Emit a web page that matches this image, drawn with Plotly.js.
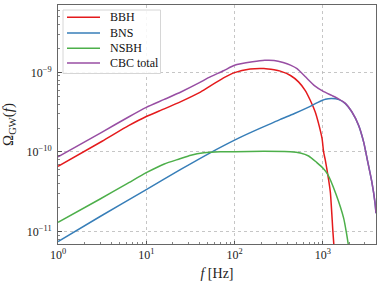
<!DOCTYPE html>
<html>
<head>
<meta charset="utf-8">
<script src="https://cdn.plot.ly/plotly-3.0.1.min.js"></script>
<style>html,body{margin:0;padding:0;background:#fff;}#chart{width:381px;height:284px;}</style>
</head>
<body>
<div id="chart"></div>
<script>
// ---- data ----
const seriesNames = ['BBH', 'BNS', 'NSBH', 'CBC total'];
const seriesColors = ['#e41a1c', '#377eb8', '#4daf4a', '#984ea3'];

const fBBH = [1, 3.16, 6.3, 10, 16, 25, 40, 50, 75, 100, 150, 215, 280, 330, 430, 530, 630, 720, 820, 895, 980, 1020, 1065, 1140, 1215, 1300, 1370];
const omegaBBH = [6.61e-11, 1.365e-10, 2.14e-10, 2.79e-10, 3.48e-10, 4.32e-10, 5.56e-10, 6.46e-10, 8.51e-10, 9.91e-10, 1.10e-9, 1.117e-9, 1.076e-9, 1.035e-9, 9.12e-10, 7.59e-10, 5.94e-10, 4.46e-10, 3.18e-10, 2.27e-10, 1.47e-10, 1.0e-10, 7.94e-11, 5.13e-11, 3.16e-11, 1.0e-11, 4.47e-12];

const fBNS = [1, 3, 10, 24, 53, 100, 160, 250, 330, 470, 680, 870, 1070, 1260, 1520, 1800, 2130, 2540, 2900, 3200, 3580, 3900, 4000];
const omegaBNS = [7.52e-12, 1.55e-11, 3.37e-11, 5.96e-11, 9.77e-11, 1.41e-10, 1.80e-10, 2.24e-10, 2.57e-10, 3.02e-10, 3.63e-10, 4.17e-10, 4.58e-10, 4.68e-10, 4.54e-10, 4.05e-10, 3.18e-10, 2.16e-10, 1.33e-10, 7.87e-11, 4.27e-11, 2.29e-11, 1.7e-11];

const fNSBH = [1, 3, 6, 10, 16, 24, 32, 45, 69, 100, 215, 430, 555, 690, 850, 1000, 1135, 1410, 1720, 1840, 2000];
const omegaNSBH = [1.31e-11, 2.57e-11, 3.98e-11, 5.50e-11, 7.08e-11, 8.22e-11, 9.12e-11, 9.77e-11, 1.007e-10, 1.01e-10, 1.02e-10, 1.01e-10, 9.73e-11, 8.91e-11, 7.41e-11, 6.31e-11, 5.25e-11, 2.95e-11, 1.48e-11, 1.0e-11, 5.62e-12];

const fTotal = [1, 3.16, 6.3, 10, 16, 25, 40, 50, 75, 100, 160, 220, 280, 355, 430, 510, 630, 810, 1000, 1260, 1520, 1800, 2130, 2540, 2900, 3200, 3580, 3900, 4000];
const omegaTotal = [8.71e-11, 1.78e-10, 2.75e-10, 3.63e-10, 4.57e-10, 5.71e-10, 7.41e-10, 8.51e-10, 1.047e-9, 1.225e-9, 1.355e-9, 1.416e-9, 1.41e-9, 1.33e-9, 1.23e-9, 1.11e-9, 8.85e-10, 6.75e-10, 5.8e-10, 5.13e-10, 4.62e-10, 4.08e-10, 3.2e-10, 2.17e-10, 1.33e-10, 7.87e-11, 4.27e-11, 2.29e-11, 1.7e-11];

const xRange = [1, 4000];
const yRange = [7e-12, 7e-9];
const xTickVals = [1, 10, 100, 1000];
const xTickText = ['10<sup>0</sup>', '10<sup>1</sup>', '10<sup>2</sup>', '10<sup>3</sup>'];
const yTickVals = [1e-11, 1e-10, 1e-9];
const yTickText = ['10<sup>\u221211</sup>', '10<sup>\u221210</sup>', '10<sup>\u22129</sup>'];

// ---- build traces ----
const xs = [fBBH, fBNS, fNSBH, fTotal];
const ys = [omegaBBH, omegaBNS, omegaNSBH, omegaTotal];
const traces = seriesNames.map((name, i) => ({
  type: 'scatter', mode: 'lines', name: name,
  x: xs[i], y: ys[i],
  line: {color: seriesColors[i], width: 1.5, shape: 'spline', smoothing: 0.6},
  hoverinfo: 'skip'
}));

// minor tick positions (log decades)
function minorTicks(lo, hi) {
  const out = [];
  for (let e = Math.floor(Math.log10(lo)); e <= Math.ceil(Math.log10(hi)); e++) {
    for (let m = 2; m <= 9; m++) {
      const v = m * Math.pow(10, e);
      if (v >= lo && v <= hi) out.push(v);
    }
  }
  return out;
}

const L = 58, R = 5, T = 5, B = 40, W = 381, H = 284;
const pw = W - L - R, ph = H - T - B;
const px = p => (p - L) / pw;          // pixel -> paper x
const py = p => (H - B - p) / ph;      // pixel -> paper y

const FONT = 'Liberation Serif, serif';

// ---- legend (upper left, matplotlib style) ----
const legendRows = [17.3, 33.0, 48.3, 63.0];
const shapes = [{
  type: 'rect', xref: 'paper', yref: 'paper',
  x0: px(63), x1: px(160.5), y0: py(73.5), y1: py(10),
  line: {color: '#d6d6d6', width: 1}, fillcolor: 'rgba(255,255,255,0.85)', layer: 'above'
}];
const annotations = [];
seriesNames.forEach((name, i) => {
  shapes.push({type: 'line', xref: 'paper', yref: 'paper',
    x0: px(67), x1: px(100), y0: py(legendRows[i]), y1: py(legendRows[i]),
    line: {color: seriesColors[i], width: 1.6}, layer: 'above'});
  annotations.push({xref: 'paper', yref: 'paper', x: px(108), y: py(legendRows[i]),
    xanchor: 'left', yanchor: 'middle', showarrow: false, text: name,
    font: {family: FONT, size: 12, color: '#111'}});
});

const axisCommon = {
  type: 'log', showgrid: true, gridcolor: '#b8b8b8', griddash: 'dot', gridwidth: 0.8,
  showline: true, linecolor: '#666', linewidth: 1, mirror: true, zeroline: false,
  ticks: 'inside', ticklen: 3.5, tickwidth: 0.8, tickcolor: '#333', tickmode: 'array',
  tickfont: {family: FONT, size: 12, color: '#222'}
};

const layout = {
  width: W, height: H,
  margin: {l: L, r: R, t: T, b: B, pad: 0},
  paper_bgcolor: '#ffffff', plot_bgcolor: '#ffffff',
  showlegend: false,
  font: {family: FONT, size: 12, color: '#222'},
  xaxis: Object.assign({}, axisCommon, {
    range: [Math.log10(xRange[0]), Math.log10(xRange[1])],
    tickvals: xTickVals, ticktext: xTickText,
    minor: {tickmode: 'array', tickvals: minorTicks(xRange[0], xRange[1]), ticks: 'inside', ticklen: 2, tickwidth: 0.6, tickcolor: '#333', showgrid: false},
    title: {text: '<i>f</i> [Hz]', font: {family: FONT, size: 14, color: '#222'}, standoff: 6},
    automargin: false
  }),
  yaxis: Object.assign({}, axisCommon, {
    range: [Math.log10(yRange[0]), Math.log10(yRange[1])],
    tickvals: yTickVals, ticktext: yTickText, ticklabelstandoff: 3,
    minor: {tickmode: 'array', tickvals: minorTicks(yRange[0], yRange[1]), ticks: 'inside', ticklen: 2, tickwidth: 0.6, tickcolor: '#333', showgrid: false},
    title: {text: '\u03a9<sub>GW</sub>(<i>f</i>)', font: {family: FONT, size: 15, color: '#222'}, standoff: 10},
    automargin: false
  }),
  shapes: shapes,
  annotations: annotations
};

Plotly.newPlot('chart', traces, layout, {staticPlot: true, displayModeBar: false});
</script>
</body>
</html>
